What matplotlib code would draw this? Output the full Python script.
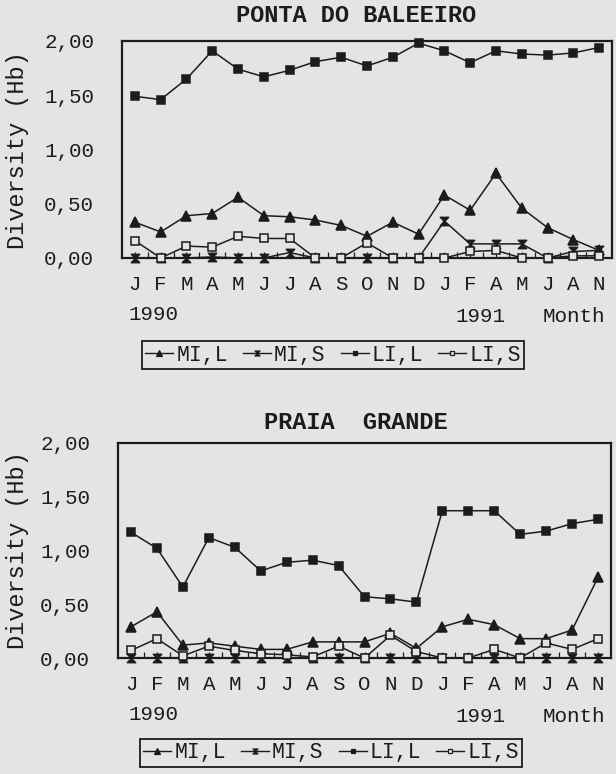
import numpy as np
import matplotlib
matplotlib.use('Agg')
import matplotlib.pyplot as plt
from matplotlib.lines import Line2D
from matplotlib.path import Path

# month labels as printed under the x axis (Jan 1990 .. Nov 1991)
months = ['J', 'F', 'M', 'A', 'M', 'J', 'J', 'A', 'S', 'O', 'N', 'D',
          'J', 'F', 'A', 'M', 'J', 'A', 'N']
series_names = ['MI,L', 'MI,S', 'LI,L', 'LI,S']
ytick_vals = [0.0, 0.5, 1.0, 1.5, 2.0]
ytick_labels = ['0,00', '0,50', '1,00', '1,50', '2,00']

# Ponta do Baleeiro
pb_mi_l = [0.33, 0.24, 0.39, 0.41, 0.56, 0.39, 0.38, 0.35, 0.30, 0.20, 0.33, 0.22,
           0.58, 0.44, 0.78, 0.46, 0.28, 0.17, 0.07]
pb_mi_s = [0.00, 0.00, 0.00, 0.01, 0.00, 0.00, 0.05, 0.00, 0.00, 0.00, 0.00, 0.00,
           0.34, 0.13, 0.13, 0.13, 0.00, 0.06, 0.07]
pb_li_l = [1.49, 1.46, 1.65, 1.91, 1.74, 1.67, 1.73, 1.81, 1.85, 1.77, 1.85, 1.98,
           1.91, 1.80, 1.91, 1.88, 1.87, 1.89, 1.94]
pb_li_s = [0.16, 0.00, 0.11, 0.10, 0.20, 0.18, 0.18, 0.00, 0.00, 0.14, 0.00, 0.00,
           0.00, 0.06, 0.07, 0.00, 0.00, 0.02, 0.02]

# Praia Grande
pg_mi_l = [0.29, 0.43, 0.12, 0.14, 0.11, 0.08, 0.08, 0.15, 0.15, 0.15, 0.23, 0.09,
           0.29, 0.36, 0.31, 0.18, 0.18, 0.26, 0.75]
pg_mi_s = [0.00, 0.00, 0.00, 0.00, 0.00, 0.00, 0.00, 0.00, 0.00, 0.00, 0.00, 0.00,
           0.00, 0.00, 0.00, 0.00, 0.00, 0.00, 0.00]
pg_li_l = [1.17, 1.02, 0.66, 1.12, 1.03, 0.81, 0.89, 0.91, 0.86, 0.57, 0.55, 0.52,
           1.37, 1.37, 1.37, 1.15, 1.18, 1.25, 1.29]
pg_li_s = [0.07, 0.18, 0.02, 0.11, 0.07, 0.04, 0.03, 0.01, 0.11, 0.00, 0.21, 0.06,
           0.00, 0.00, 0.08, 0.00, 0.14, 0.08, 0.18]

W, H = 616, 774
ink = '#1c1c1c'
bg = '#e4e4e2'
plt.rcParams['font.family'] = ['Liberation Mono', 'DejaVu Sans Mono']

# filled hourglass used for MI,S
hourglass = Path([(-1, 1), (1, 1), (-1, -1), (1, -1), (-1, 1)],
                 [Path.MOVETO, Path.LINETO, Path.LINETO, Path.LINETO, Path.CLOSEPOLY])
styles = [('^', ink, 7), (hourglass, ink, 6), ('s', ink, 6), ('s', bg, 6)]


def px(x, y):
    return x / W, 1 - y / H


def rect(left, top, right, bottom):
    return [left / W, 1 - bottom / H, (right - left) / W, (bottom - top) / H]


def draw_panel(fig, box, title, title_y, series, ylab_y, year_y):
    ax = fig.add_axes(box)
    ax.set_facecolor(bg)
    x = np.arange(len(months))
    for vals, (m, fc, ms) in zip(series, styles):
        ax.plot(x, vals, color=ink, lw=1.1, marker=m, ms=ms, mfc=fc, mec=ink,
                mew=1.1, clip_on=False, zorder=3)
    ax.set_xlim(-0.5, 18.5)
    ax.set_ylim(0, 2)
    ax.set_yticks(ytick_vals)
    ax.set_yticklabels(ytick_labels)
    ax.set_xticks(x)
    ax.set_xticklabels(months)
    ax.set_xticks(x[:-1] + 0.5, minor=True)
    ax.tick_params(axis='y', length=0, pad=20, labelsize=15, colors=ink)
    ax.tick_params(axis='x', which='both', direction='in', length=4, width=0.9,
                   pad=12, labelsize=15, colors=ink)
    for s in ax.spines.values():
        s.set_linewidth(1.6)
        s.set_color(ink)

    fig.text(*px(356, title_y), title, ha='center', va='center', fontsize=17,
             fontweight='bold', color=ink)
    fig.text(*px(18, ylab_y), 'Diversity (Hb)', rotation=90, ha='center',
             va='center', fontsize=17, color=ink)
    fig.text(*px(128, year_y), '1990', ha='left', va='center', fontsize=15, color=ink)
    fig.text(*px(480, year_y + 2), '1991', ha='center', va='center', fontsize=15, color=ink)
    fig.text(*px(543, year_y + 3), 'Month', ha='left', va='center', fontsize=15, color=ink)
    return ax


def add_legend(fig, cx, cy):
    handles = []
    for m, fc, ms in styles:
        handles.append(Line2D([], [], color=ink, lw=1.0, marker=m, ms=ms * 0.6,
                              mfc=fc, mec=ink, mew=0.9))
    leg = fig.legend(handles, series_names, ncol=4, loc='center',
                     bbox_to_anchor=px(cx, cy), frameon=True, fancybox=False,
                     edgecolor=ink, facecolor=bg, framealpha=1, fontsize=15.5,
                     handlelength=1.3, handletextpad=0.15, columnspacing=0.7,
                     borderpad=0.15, borderaxespad=0)
    leg.get_frame().set_linewidth(1.3)
    for t in leg.get_texts():
        t.set_color(ink)
    return leg


def main():
    fig = plt.figure(figsize=(W / 100, H / 100), dpi=100, facecolor=bg)

    draw_panel(fig, rect(122, 41, 612, 258), 'PONTA DO BALEEIRO', 16,
               [pb_mi_l, pb_mi_s, pb_li_l, pb_li_s], 150, 314)
    add_legend(fig, 333, 355)

    draw_panel(fig, rect(118, 443, 611, 658), 'PRAIA  GRANDE', 422,
               [pg_mi_l, pg_mi_s, pg_li_l, pg_li_s], 550, 714)
    add_legend(fig, 331, 753)

    fig.savefig('out.png', dpi=100, facecolor=bg)
    plt.close()


if __name__ == '__main__':
    main()
